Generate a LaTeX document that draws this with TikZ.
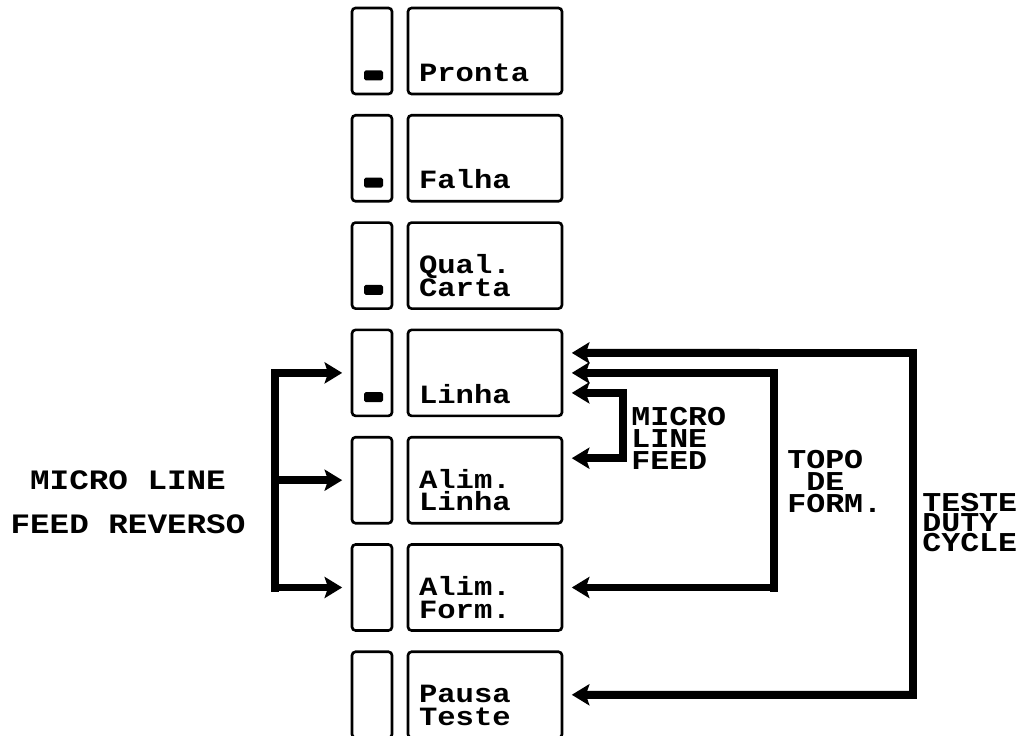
\documentclass[tikz,border=0pt]{standalone}
\usepackage{fontspec}
\newfontfamily\dotfont{Liberation Mono}[FakeStretch=1.16]
\usetikzlibrary{calc, arrows.meta}

\begin{document}
\begin{tikzpicture}[x=0.02cm, y=-0.02cm,
  >={Stealth[length=10pt, width=12pt, inset=2pt]},
  ledbox/.style={draw, line width=1.5pt, rounded corners=2pt, minimum width=0.8cm, minimum height=1.72cm},
  keybox/.style={draw, line width=1.5pt, rounded corners=2pt, minimum width=3.08cm, minimum height=1.72cm},
  keytext/.style={font=\dotfont\bfseries\fontsize{15}{13}\selectfont, inner sep=0pt, align=left},
  tag/.style={font=\dotfont\bfseries\fontsize{15.5}{12.5}\selectfont, inner sep=0pt},
  thickline/.style={line width=4.5pt, line cap=rect},
  bigarrow/.style={line width=4.5pt, ->, shorten >=0.17cm},
  twoway/.style={line width=4.5pt, <->, shorten >=0.17cm, shorten <=0.17cm}]

  \useasboundingbox (0,0) rectangle (1022,736);

  % 按键与指示灯
  \foreach \i/\txt in {1/Pronta, 2/Falha, 3/{Qual.\\Carta}, 4/Linha,
                       5/{Alim.\\Linha}, 6/{Alim.\\Form.}, 7/{Pausa\\Teste}} {
    \pgfmathsetmacro\cy{51+107.3*(\i-1)}
    \node[ledbox] (led\i) at (372,\cy) {};
    \node[keybox] (key\i) at (485,\cy) {};
    \node[keytext, anchor=south west] (txt\i) at ($(key\i.south west)+(12,-13)$) {\txt};
  }
  \foreach \i in {1,...,4}
    \fill[rounded corners=1pt] ($(led\i.south)+(-8,-15)$) rectangle ($(led\i.south)+(11,-25)$);

  % 左侧 MICRO LINE FEED REVERSO
  \coordinate (revtop) at (275,373);
  \coordinate (revbot) at (275,588);
  \draw[thickline] (revtop) -- (revbot);
  \foreach \k in {4,5,6}
    \draw[bigarrow] (revtop |- led\k.west) -- (led\k.west);
  \node[tag, align=center, font=\dotfont\bfseries\fontsize{16}{25}\selectfont] (revlabel)
    at (128,502) {MICRO LINE\\FEED REVERSO};

  % MICRO LINE FEED
  \draw[twoway] ($(key4.east)+(0,20)$) -- ++(60,0) |- ($(key5.east)+(0,-22)$);
  \node[tag, align=left, anchor=north west] (mlflabel) at (631,407) {MICRO\\LINE\\FEED};

  % TOPO DE FORM.
  \coordinate (topoA) at (774,369);
  \coordinate (topoB) at (774,592);
  \draw[line width=5pt] (topoA) -- (topoB);
  \draw[bigarrow] (topoA |- key4.east) -- (key4.east);
  \draw[bigarrow] (topoA |- key6.east) -- (key6.east);
  \node[tag, align=left, anchor=north west] (topolabel) at (787,450) {TOPO\\\phantom{T}DE\\FORM.};

  % TESTE DUTY CYCLE
  \coordinate (duty) at (913,353);
  \draw[twoway] ($(key4.east)+(0,-20)$) -- (duty) |- (key7.east);
  \node[tag, align=left, anchor=north west, font=\dotfont\bfseries\fontsize{15.5}{11.5}\selectfont]
    (dutylabel) at (922,493) {TESTE\\DUTY\\CYCLE};
\end{tikzpicture}
\end{document}
